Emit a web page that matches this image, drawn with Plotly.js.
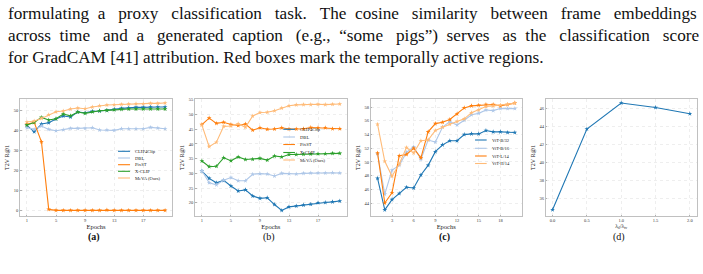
<!DOCTYPE html>
<html>
<head>
<meta charset="utf-8">
<script src="https://cdn.plot.ly/plotly-3.0.1.min.js"></script>
<style>
  html, body { margin: 0; padding: 0; background: #ffffff; }
  #chart { width: 703px; height: 274px; }
</style>
</head>
<body>
<div id="chart"></div>
<script>
// ---------- data ----------
const epochs = [1,2,3,4,5,6,7,8,9,10,11,12,13,14,15,16,17,18,19,20];

// (a)
const seriesNamesA = ["CLIP4Clip", "DBL", "PixST", "X-CLIP", "MeVA (Ours)"];
const clip4clipA = [42.5,39.3,43.2,43.8,45.7,47.2,46.7,49.2,48.8,49.5,49.7,50.0,50.5,51.0,51.3,51.5,51.5,51.7,51.7,51.7];
const dblA       = [41.3,40.5,42.2,40.5,39.8,40.3,41.0,41.0,41.0,41.3,40.2,40.2,40.0,40.8,40.8,40.8,40.8,41.5,41.2,40.8];
const pixstA     = [43.0,44.0,34.3,0.5,0.0,0.0,0.0,0.0,0.0,0.0,0.0,0.2,0.0,0.0,0.0,0.0,0.0,0.0,0.0,0.0];
const xclipA     = [42.7,44.0,46.5,45.2,45.8,48.2,47.3,49.2,48.5,49.3,49.8,50.0,50.3,50.5,50.7,50.7,50.7,50.7,50.7,50.7];
const mevaA      = [44.2,44.7,46.0,47.8,49.3,49.7,50.7,51.2,50.8,51.7,52.3,52.7,52.8,53.0,53.2,53.3,53.3,53.5,53.5,53.7];

// (b)
const clip4clipB = [30.8,28.3,26.8,27.6,25.7,24.0,24.4,22.3,21.5,21.7,19.4,17.4,18.6,18.9,19.2,19.5,20.0,20.1,20.3,20.6];
const dblB       = [30.9,26.8,26.1,27.7,28.6,27.5,27.5,29.7,29.9,29.8,29.1,30.0,29.9,29.8,30.0,30.1,30.1,30.1,30.2,30.1];
const pixstB     = [46.6,48.8,47.0,47.4,46.6,46.3,46.8,44.7,45.5,45.0,45.1,45.5,45.1,45.1,45.2,45.6,45.5,45.5,45.2,45.2];
const xclipB     = [34.2,32.3,32.4,35.3,34.3,35.6,34.7,34.8,35.1,34.5,35.9,35.6,36.4,36.4,36.5,36.6,36.7,36.7,36.8,36.8];
const mevaB      = [46.4,39.1,40.6,46.0,46.1,46.9,45.7,49.5,50.7,50.8,51.3,52.2,53.0,53.3,53.4,53.4,53.5,53.4,53.5,53.6];

// (c)
const seriesNamesC = ["ViT-B/32", "ViT-B/16", "ViT-L/14", "ViT-H/14"];
const vitB32 = [47.6,43.0,44.5,45.4,46.3,46.2,48.1,49.5,51.5,52.5,53.1,53.1,54.0,54.1,54.1,54.6,54.4,54.4,54.3,54.3];
const vitB16 = [51.2,45.3,48.8,49.5,51.4,52.2,50.4,53.2,52.9,55.1,55.9,55.4,56.1,56.9,57.1,57.6,57.5,57.8,57.8,57.8];
const vitL14 = [51.3,44.0,45.5,50.9,51.1,52.0,50.6,54.4,55.6,55.8,56.2,57.0,57.9,58.2,58.3,58.4,58.4,58.2,58.4,58.6];
const vitH14 = [55.5,50.1,47.9,49.7,52.1,51.3,53.1,53.2,54.6,55.1,55.5,55.9,56.3,57.2,57.6,58.1,58.2,58.3,58.4,58.6];

// (d)
const lambdaRatio = [0.0, 0.5, 1.0, 1.5, 2.0];
const r1D = [34.7, 43.7, 46.6, 46.1, 45.4];

// tick labels
const xTicksEpochAB = [1, 5, 9, 13, 17];
const xTicksEpochC = [3, 6, 9, 12, 15, 18];
const yTicksA = [0, 10, 20, 30, 40, 50];
const yTicksB = [20, 25, 30, 35, 40, 45, 50, 55];
const yTicksC = [44, 46, 48, 50, 52, 54, 56, 58];
const yTicksD = [36, 38, 40, 42, 44, 46];
const xTicksD = [0.0, 0.5, 1.0, 1.5, 2.0];
const panelLabels = ["(a)", "(b)", "(c)", "(d)"];

// caption text above the figure
const captionLines = [
  "formulating a proxy classification task. The cosine similarity between frame embeddings",
  "across time and a generated caption (e.g., “some pigs”) serves as the classification score",
  "for GradCAM [41] attribution. Red boxes mark the temporally active regions."
];

// ---------- styling ----------
const C_DB = "#1f77b4", C_LB = "#aec7e8", C_OR = "#ff7f0e", C_GR = "#2ca02c", C_LO = "#ffbb78";
const colorsA = [C_DB, C_LB, C_OR, C_GR, C_LO];
const colorsC = [C_DB, C_LB, C_OR, C_LO];
const SERIF = "Liberation Serif, DejaVu Serif, serif";

function tr(x, y, color, xa, ya, name) {
  return {
    x: x, y: y, type: "scatter", mode: "lines+markers", name: name,
    xaxis: xa, yaxis: ya, showlegend: false,
    line: { color: color, width: 1.1 },
    marker: { color: color, size: 3.6, symbol: "star" },
    hoverinfo: "skip"
  };
}

const data = [];
[clip4clipA, dblA, pixstA, xclipA, mevaA].forEach((s, i) => data.push(tr(epochs, s, colorsA[i], "x", "y", seriesNamesA[i])));
[clip4clipB, dblB, pixstB, xclipB, mevaB].forEach((s, i) => data.push(tr(epochs, s, colorsA[i], "x2", "y2", seriesNamesA[i])));
[vitB32, vitB16, vitL14, vitH14].forEach((s, i) => data.push(tr(epochs, s, colorsC[i], "x3", "y3", seriesNamesC[i])));
data.push(tr(lambdaRatio, r1D, C_DB, "x4", "y4", "T2V R@1"));

const W = 703, H = 274;
const yDom = [1 - 216 / H, 1 - 99 / H];
const xDoms = [[20, 172], [195, 346.7], [370.7, 521.7], [545.7, 696.7]].map(d => [d[0] / W, d[1] / W]);

function xax(dom, range, tickvals, title, fmt, anchor, tsize) {
  return {
    domain: dom, range: range, tickvals: tickvals, anchor: anchor,
    tickformat: fmt || "",
    showline: true, mirror: true, linecolor: "#b0b0b0", linewidth: 0.8,
    showgrid: true, gridcolor: "#e2e2e2", griddash: "dot", gridwidth: 0.6,
    zeroline: false, ticks: "inside", ticklen: 1.5, tickcolor: "#b0b0b0",
    tickfont: { family: SERIF, size: 4.5, color: "#333" },
    title: { text: title, font: { family: SERIF, size: tsize || 6.5, color: "#222" }, standoff: 0 },
    automargin: false
  };
}
function yax(dom, range, tickvals, anchor) {
  return {
    domain: dom, range: range, tickvals: tickvals, anchor: anchor,
    showline: true, mirror: true, linecolor: "#b0b0b0", linewidth: 0.8,
    showgrid: true, gridcolor: "#e2e2e2", griddash: "dot", gridwidth: 0.6,
    zeroline: false, ticks: "inside", ticklen: 1.5, tickcolor: "#b0b0b0",
    tickfont: { family: SERIF, size: 4.5, color: "#333" },
    title: { text: "T2V R@1", font: { family: SERIF, size: 6, color: "#222" }, standoff: 3 },
    automargin: false
  };
}

const layout = {
  width: W, height: H,
  margin: { l: 0, r: 0, t: 0, b: 0 },
  paper_bgcolor: "#ffffff", plot_bgcolor: "#ffffff",
  showlegend: false,
  xaxis:  xax(xDoms[0], [0.05, 20.95], xTicksEpochAB, "Epochs", "", "y"),
  yaxis:  yax(yDom, [-2.8, 55.7], yTicksA, "x"),
  xaxis2: xax(xDoms[1], [0.05, 20.95], xTicksEpochAB, "Epochs", "", "y2"),
  yaxis2: yax(yDom, [15.5, 55.3], yTicksB, "x2"),
  xaxis3: xax(xDoms[2], [0.05, 20.95], xTicksEpochC, "Epochs", "", "y3"),
  yaxis3: yax(yDom, [42.1, 59.2], yTicksC, "x3"),
  xaxis4: xax(xDoms[3], [-0.1, 2.1], xTicksD, "λ<sub>tl</sub>/λ<sub>tv</sub>", ".1f", "y4", 5.5),
  yaxis4: yax(yDom, [34.0, 47.05], yTicksD, "x4"),
  annotations: [], shapes: []
};

// ---------- caption lines: size fitted to the last line, first two lines justified ----------
const ctx = document.createElement("canvas").getContext("2d");
function measure(t, fs) { ctx.font = fs + "px 'Liberation Serif'"; return ctx.measureText(t).width; }
let capFs = 17.2;
(function () {
  const w3 = measure(captionLines[2], 16);
  if (w3 > 0) capFs = Math.max(13, Math.min(19, 16 * 536 / w3));
})();
function justify(line, fs, target) {
  const words = line.split(" ");
  const base = measure(line, fs);
  const nb = measure("\u00a0", fs) || fs * 0.25;
  const gaps = words.length - 1;
  let extra = Math.max(0, Math.round((target - base) / nb));
  let out = words[0];
  for (let g = 0; g < gaps; g++) {
    const k = Math.floor(extra * (g + 1) / gaps) - Math.floor(extra * g / gaps);
    out += " " + "\u00a0".repeat(k) + words[g + 1];
  }
  return out;
}
const capY = [13, 35, 57];
captionLines.forEach((t, i) => {
  const txt = i < 2 ? justify(t, capFs, 690) : t;
  layout.annotations.push({
    text: txt, xref: "paper", yref: "paper", x: 7 / W, y: 1 - capY[i] / H,
    xanchor: "left", yanchor: "middle", showarrow: false, borderpad: 0,
    font: { family: SERIF, size: capFs, color: "#111" }
  });
});

// panel labels
const labelX = [94, 269, 444, 619];
panelLabels.forEach((t, i) => {
  const bold = (i === 0 || i === 2);
  layout.annotations.push({
    text: bold ? "<b>" + t + "</b>" : t, xref: "paper", yref: "paper",
    x: labelX[i] / W, y: 1 - 236.5 / H, showarrow: false,
    font: { family: SERIF, size: 10, color: "#111" }, xanchor: "center", yanchor: "middle"
  });
});

// compact in-plot legends
function legend(xref, yref, names, colors, lineX0, lineX1, textX, rowsY) {
  names.forEach((n, i) => {
    const yy = (216 - rowsY[i]) / 117;
    layout.shapes.push({
      type: "line", xref: xref + " domain", yref: yref + " domain",
      x0: lineX0, x1: lineX1, y0: yy, y1: yy, line: { color: colors[i], width: 1.1 }
    });
    layout.annotations.push({
      text: n, xref: xref + " domain", yref: yref + " domain", x: textX, y: yy,
      xanchor: "left", yanchor: "middle", showarrow: false,
      font: { family: SERIF, size: 4.6, color: "#222" }
    });
  });
}
legend("x", "y", seriesNamesA, colorsA, 0.645, 0.724, 0.745, [151.3, 158, 164.7, 171.3, 178]);
legend("x2", "y2", seriesNamesA, colorsA, 0.582, 0.659, 0.68, [129.3, 137, 144.5, 152.5, 160]);
legend("x3", "y3", seriesNamesC, colorsC, 0.691, 0.768, 0.79, [140, 148.3, 156, 163.5]);

Plotly.newPlot("chart", data, layout, { staticPlot: true, displayModeBar: false });
</script>
</body>
</html>
